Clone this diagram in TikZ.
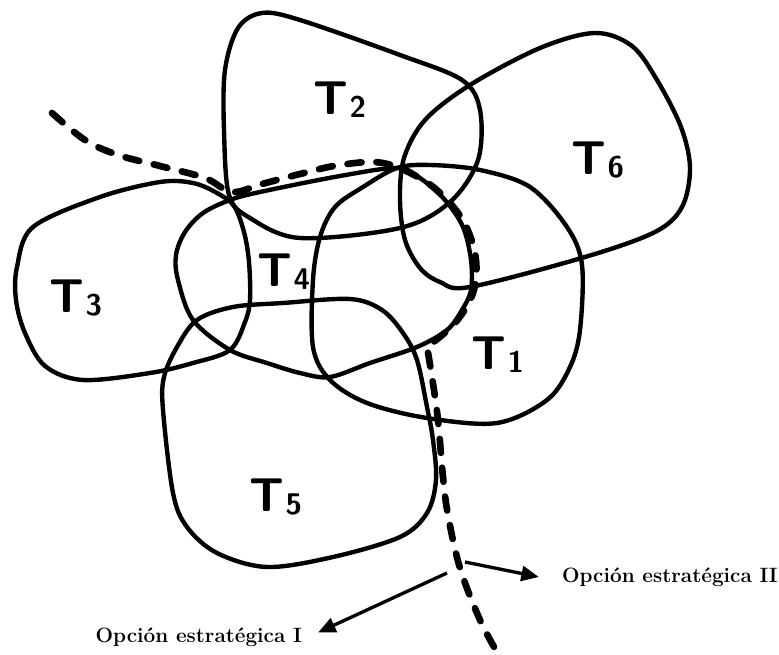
\documentclass[tikz,border=0pt]{standalone}
\usetikzlibrary{arrows.meta}

\newcommand{\tlab}[1]{T\kern0.6pt\raisebox{-1.5pt}{\fontsize{17}{17}\selectfont #1}}

\begin{document}
\begin{tikzpicture}[
    x=0.02cm, y=-0.02cm,
    blob/.style={draw=black, line width=2.5pt, line join=round},
    route/.style={draw=black, line width=3.8pt, line cap=round, dash pattern=on 8pt off 8.5pt},
    pointer/.style={draw=black, line width=1.9pt, -{Triangle[length=10pt,width=8.5pt]}},
    tag/.style={font=\sffamily\bfseries\fontsize{27}{27}\selectfont, inner sep=0pt},
    option/.style={font=\bfseries\fontsize{11.8}{13}\selectfont, inner sep=1pt}
]
\useasboundingbox (0,0) rectangle (779,655);

% Task areas
\draw[blob] plot[smooth cycle, tension=0.55] coordinates {
    (262,13) (300,20) (400,55) (462,80) (480,110) (478,160) (450,202)
    (400,228) (300,238) (250,218) (229,195) (224,130) (225,70) (238,28)};
\draw[blob] plot[smooth cycle, tension=0.55] coordinates {
    (470,85) (540,48) (595,33) (632,46) (657,80) (681,127) (690,168)
    (682,207) (655,232) (585,257) (470,287) (440,282) (420,268) (405,240)
    (400,200) (404,158) (425,120)};
\draw[blob] plot[smooth cycle, tension=0.55] coordinates {
    (363,187) (397,168) (430,165) (480,170) (530,187) (567,227) (582,265)
    (580,330) (570,367) (547,400) (497,423) (427,418) (367,403) (330,380)
    (313,347) (313,280) (320,237) (335,207)};
\draw[blob] plot[smooth cycle, tension=0.55] coordinates {
    (230,200) (260,192) (340,176) (397,168) (420,178) (445,200) (463,227)
    (471,260) (471,290) (462,310) (447,330) (417,347) (370,363) (330,377)
    (300,373) (267,363) (230,350) (193,320) (178,280) (176,255) (185,232)
    (203,213)};
\draw[blob] plot[smooth cycle, tension=0.55] coordinates {
    (17,267) (33,227) (100,197) (160,182) (193,183) (217,193) (234,206)
    (244,232) (249,262) (250,300) (245,322) (230,350) (193,363) (150,373)
    (83,380) (45,366) (25,333) (16,300)};
\draw[blob] plot[smooth cycle, tension=0.55] coordinates {
    (163,410) (164,377) (177,347) (197,320) (233,307) (283,303) (350,299)
    (382,310) (403,333) (417,360) (427,407) (433,440) (436,480) (427,513)
    (400,537) (333,557) (267,567) (217,553) (187,527) (173,493)};

% Labels
\foreach \n/\x/\y in {1/498/355, 2/340/100, 3/76/298, 4/284/272, 5/276/497, 6/598/160} {
    \node[tag] (t\n) at (\x,\y) {\tlab{\n}};
}

% Dividing route
\draw[route] plot[smooth, tension=0.6] coordinates {
    (52,113) (85,140) (118,155) (160,166) (205,178) (232,192) (262,184)
    (300,174) (340,165) (383,163) (423,180) (448,201) (466,226) (476,260)
    (473,293) (455,323) (427,347)}
    -- plot[smooth, tension=0.6] coordinates {
    (427,347) (432,377) (438,420) (443,477) (448,515) (460,568) (480,620)
    (497,652)};

% Options
\node[option, anchor=west] (optII) at (560,577) {Opción estratégica II};
\node[option, anchor=east] (optI) at (304,637) {Opción estratégica I};
\coordinate (fromII) at (465,562);
\coordinate (fromI) at (447,573);
\draw[pointer] (fromII) -- ([xshift=-12]optII.west);
\draw[pointer] (fromI) -- ([xshift=8,yshift=-4]optI.north east);
\end{tikzpicture}
\end{document}
